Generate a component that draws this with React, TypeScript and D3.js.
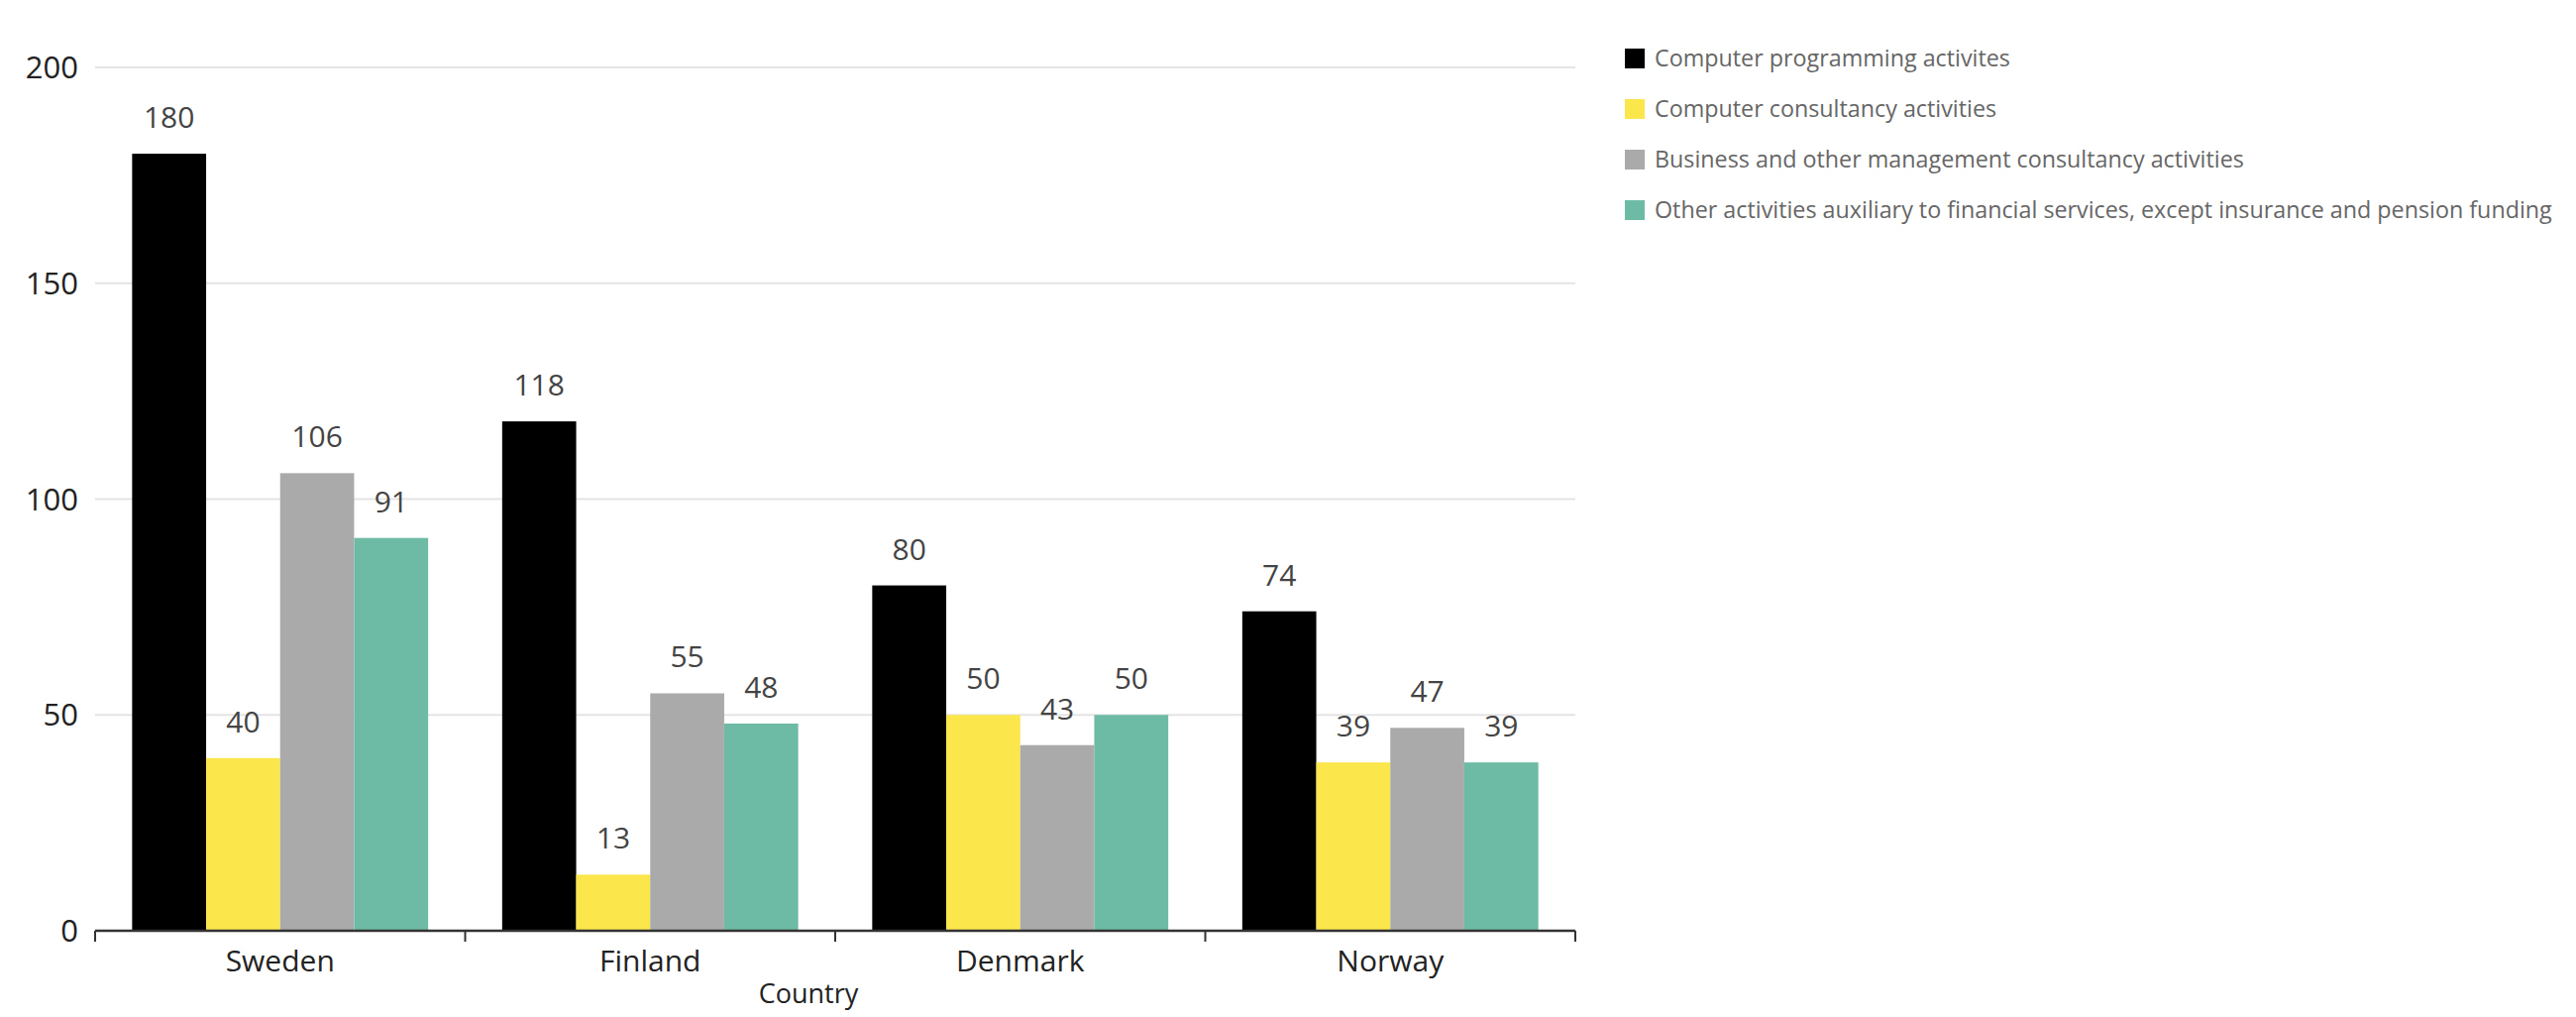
import React, { useRef, useEffect } from 'react';
import * as d3 from 'd3';

const countries = ['Sweden', 'Finland', 'Denmark', 'Norway'];
const seriesNames = [
  'Computer programming activites',
  'Computer consultancy activities',
  'Business and other management consultancy activities',
  'Other activities auxiliary to financial services, except insurance and pension funding'
];
const seriesColors = ['#000000', '#fbe64c', '#aaaaaa', '#6ebba5'];
// one array per series, same order as countries
const programming = [180, 118, 80, 74];
const consultancy = [40, 13, 50, 39];
const management = [106, 55, 43, 47];
const financial = [91, 48, 50, 39];
const yTicks = [0, 50, 100, 150, 200];

const W = 2600;
const H = 1026;
const FONT = '"Open Sans", sans-serif';

export default () => {
  const svgRef = useRef<SVGSVGElement>(null);

  useEffect(() => {
    if (!svgRef.current) return;
    const svg = d3.select(svgRef.current);
    svg.selectAll('*').remove();

    const values = [programming, consultancy, management, financial];
    const left = 96;
    const right = 1590;
    const top = 68;
    const bottom = 939;

    const x = d3
      .scaleBand<string>()
      .domain(countries)
      .range([left, right])
      .paddingInner(0.2)
      .paddingOuter(0.1);
    const xInner = d3
      .scaleBand<number>()
      .domain(d3.range(seriesNames.length))
      .range([0, x.bandwidth()]);
    const y = d3.scaleLinear().domain([0, 200]).range([bottom, top]);

    // gridlines + y labels
    const grid = svg.append('g');
    yTicks.forEach((t) => {
      if (t > 0) {
        grid
          .append('line')
          .attr('x1', left)
          .attr('x2', right)
          .attr('y1', y(t))
          .attr('y2', y(t))
          .style('stroke', '#e4e4e4')
          .style('stroke-width', 2);
      }
      grid
        .append('text')
        .attr('x', 79)
        .attr('y', y(t))
        .attr('dy', '0.36em')
        .attr('text-anchor', 'end')
        .style('font-family', FONT)
        .style('font-size', '31px')
        .style('fill', '#222')
        .text(t);
    });

    // bars
    values.forEach((vals, si) => {
      const g = svg.append('g');
      vals.forEach((v, ci) => {
        const bx = (x(countries[ci]) as number) + (xInner(si) as number);
        g.append('rect')
          .attr('x', bx)
          .attr('y', y(v))
          .attr('width', xInner.bandwidth())
          .attr('height', bottom - y(v))
          .style('fill', seriesColors[si]);
        g.append('text')
          .attr('x', bx + xInner.bandwidth() / 2)
          .attr('y', y(v) - 26)
          .attr('text-anchor', 'middle')
          .style('font-family', FONT)
          .style('font-size', '30px')
          .style('fill', '#444')
          .text(v);
      });
    });

    // x axis
    const axis = svg.append('g');
    axis
      .append('line')
      .attr('x1', left)
      .attr('x2', right)
      .attr('y1', bottom)
      .attr('y2', bottom)
      .style('stroke', '#333')
      .style('stroke-width', 2.5);
    const boundaries = countries.map((c) => (x(c) as number) - (x.step() * x.paddingInner()) / 2);
    boundaries.push(right);
    boundaries[0] = left;
    boundaries.forEach((bx) => {
      axis
        .append('line')
        .attr('x1', bx)
        .attr('x2', bx)
        .attr('y1', bottom)
        .attr('y2', bottom + 11)
        .style('stroke', '#333')
        .style('stroke-width', 2);
    });
    countries.forEach((c) => {
      axis
        .append('text')
        .attr('x', (x(c) as number) + x.bandwidth() / 2)
        .attr('y', 980)
        .attr('text-anchor', 'middle')
        .style('font-family', FONT)
        .style('font-size', '30px')
        .style('fill', '#222')
        .text(c);
    });
    axis
      .append('text')
      .attr('x', 816)
      .attr('y', 1012)
      .attr('text-anchor', 'middle')
      .style('font-family', FONT)
      .style('font-size', '27px')
      .style('fill', '#222')
      .text('Country');

    // legend
    const legend = svg.append('g');
    seriesNames.forEach((name, i) => {
      const ly = 49 + i * 51;
      legend
        .append('rect')
        .attr('x', 1640)
        .attr('y', ly)
        .attr('width', 20)
        .attr('height', 20)
        .style('fill', seriesColors[i]);
      legend
        .append('text')
        .attr('x', 1670)
        .attr('y', ly + 10)
        .attr('dy', '0.35em')
        .style('font-family', FONT)
        .style('font-size', '23.3px')
        .style('fill', '#666')
        .text(name);
    });
  }, []);

  return (
    <svg
      ref={svgRef}
      width={W}
      height={H}
      style={{ position: 'absolute', left: 0, top: 0, background: '#fff' }}
    />
  );
};
